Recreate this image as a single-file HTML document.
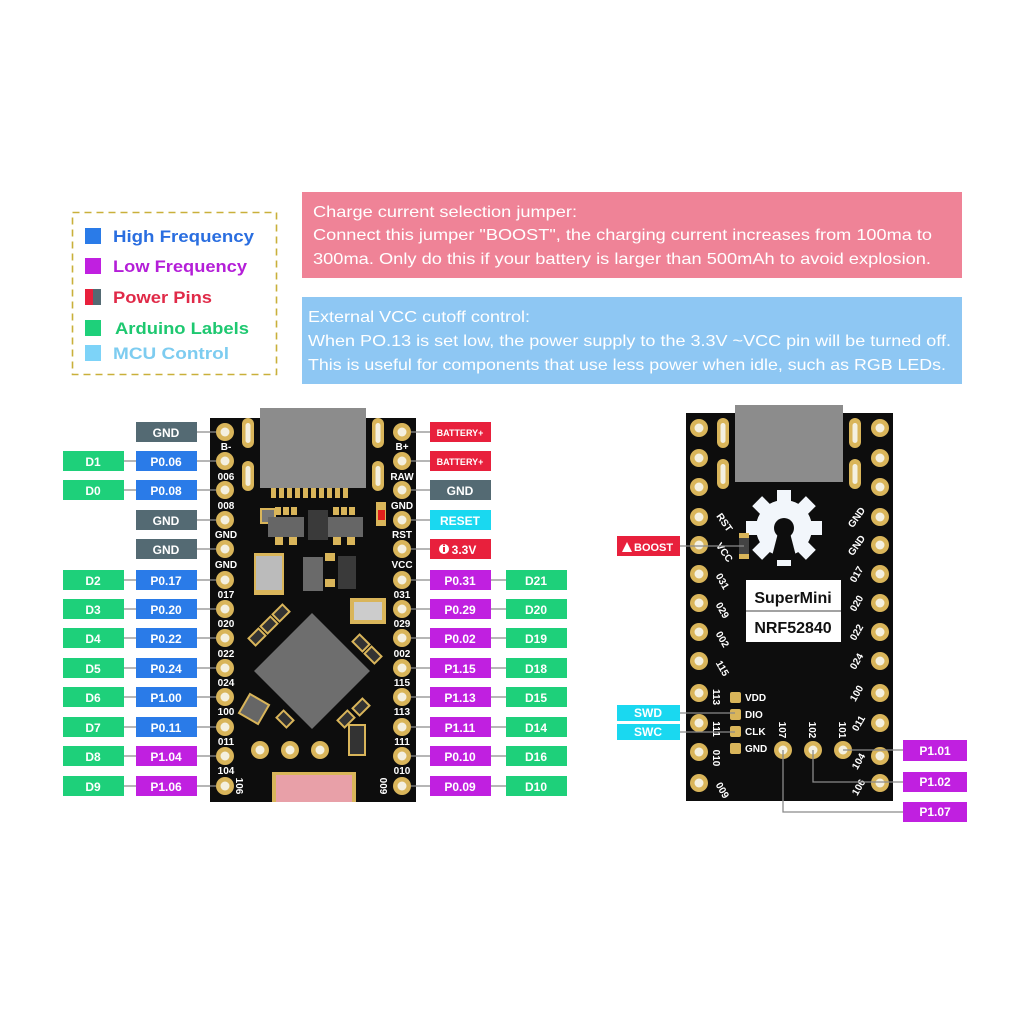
<!DOCTYPE html>
<html><head><meta charset="utf-8"><style>
html,body{margin:0;padding:0;background:#fff}
svg{display:block}
text{font-family:"Liberation Sans",sans-serif}
.lb{font-weight:bold;font-size:12px;fill:#fff;text-anchor:middle}
.sk{font-weight:bold;font-size:10px;fill:#fff;text-anchor:middle}
.rt{font-weight:bold;font-size:11px;fill:#fff}
.ln{stroke:#8a8a8a;stroke-width:1.3;fill:none}
.info{font-size:16px;fill:#fff}
</style></head><body>
<svg width="1024" height="1024" viewBox="0 0 1024 1024" xmlns="http://www.w3.org/2000/svg">
<defs>
<g id="pad"><circle r="9" fill="#d9b55a"/><circle r="4.5" fill="#f4f0e0"/></g>
<g id="slot"><rect x="-6" y="-15" width="12" height="30" rx="6" fill="#d9b55a"/><rect x="-2.5" y="-10" width="5" height="20" rx="2.5" fill="#f4f0e0"/></g>
</defs>

<!-- Legend -->
<rect x="72.5" y="212.5" width="204" height="162" fill="none" stroke="#c9b03a" stroke-width="1.6" stroke-dasharray="7,5"/>
<rect x="85" y="228" width="16" height="16" fill="#2a7be8"/>
<text x="113" y="242" font-size="17" font-weight="bold" fill="#2a6ee0" textLength="141" lengthAdjust="spacingAndGlyphs">High Frequency</text>
<rect x="85" y="258" width="16" height="16" fill="#c020e0"/>
<text x="113" y="272" font-size="17" font-weight="bold" fill="#b41ed8" textLength="134" lengthAdjust="spacingAndGlyphs">Low Frequency</text>
<rect x="85" y="289" width="8" height="16" fill="#e8203c"/><rect x="93" y="289" width="8" height="16" fill="#546a73"/>
<text x="113" y="303" font-size="17" font-weight="bold" fill="#e02a48" textLength="99" lengthAdjust="spacingAndGlyphs">Power Pins</text>
<rect x="85" y="320" width="16" height="16" fill="#1ed07a"/>
<text x="115" y="334" font-size="17" font-weight="bold" fill="#1ec870" textLength="134" lengthAdjust="spacingAndGlyphs">Arduino Labels</text>
<rect x="85" y="345" width="16" height="16" fill="#7dd3f8"/>
<text x="113" y="359" font-size="17" font-weight="bold" fill="#7dccf0" textLength="116" lengthAdjust="spacingAndGlyphs">MCU Control</text>

<!-- Info boxes -->
<rect x="302" y="192" width="660" height="86" fill="#ef8397"/>
<text class="info" x="313" y="217" textLength="264" lengthAdjust="spacingAndGlyphs">Charge current selection jumper:</text>
<text class="info" x="313" y="240" textLength="619" lengthAdjust="spacingAndGlyphs">Connect this jumper "BOOST", the charging current increases from 100ma to</text>
<text class="info" x="313" y="264" textLength="618" lengthAdjust="spacingAndGlyphs">300ma. Only do this if your battery is larger than 500mAh to avoid explosion.</text>
<rect x="302" y="297" width="660" height="87" fill="#8ec7f3"/>
<text class="info" x="308" y="322" textLength="222" lengthAdjust="spacingAndGlyphs">External VCC cutoff control:</text>
<text class="info" x="308" y="346" textLength="643" lengthAdjust="spacingAndGlyphs">When PO.13 is set low, the power supply to the 3.3V ~VCC pin will be turned off.</text>
<text class="info" x="308" y="370" textLength="638" lengthAdjust="spacingAndGlyphs">This is useful for components that use less power when idle, such as RGB LEDs.</text>

<!-- LEFT BOARD -->
<rect x="210" y="418" width="206" height="384" fill="#0d0d0d"/>
<rect x="260" y="408" width="106" height="80" fill="#8c8c8c"/>
<g fill="#d9b55a">
<rect x="271" y="488" width="5" height="10"/><rect x="279" y="488" width="5" height="10"/><rect x="287" y="488" width="5" height="10"/><rect x="295" y="488" width="5" height="10"/><rect x="303" y="488" width="5" height="10"/><rect x="311" y="488" width="5" height="10"/><rect x="319" y="488" width="5" height="10"/><rect x="327" y="488" width="5" height="10"/><rect x="335" y="488" width="5" height="10"/><rect x="343" y="488" width="5" height="10"/>
</g>
<use href="#slot" x="248" y="433"/><use href="#slot" x="248" y="476"/><use href="#slot" x="378" y="433"/><use href="#slot" x="378" y="476"/>
<rect x="260" y="508" width="16" height="16" fill="#d9b55a"/>
<rect x="262" y="510" width="12" height="12" fill="#777"/>
<rect x="268" y="517" width="36" height="20" fill="#666"/>
<rect x="275" y="507" width="6" height="8" fill="#d9b55a"/><rect x="283" y="507" width="6" height="8" fill="#d9b55a"/><rect x="291" y="507" width="6" height="8" fill="#d9b55a"/>
<rect x="275" y="537" width="8" height="8" fill="#d9b55a"/><rect x="289" y="537" width="8" height="8" fill="#d9b55a"/>
<rect x="327" y="517" width="36" height="20" fill="#666"/>
<rect x="333" y="507" width="6" height="8" fill="#d9b55a"/><rect x="341" y="507" width="6" height="8" fill="#d9b55a"/><rect x="349" y="507" width="6" height="8" fill="#d9b55a"/>
<rect x="333" y="537" width="8" height="8" fill="#d9b55a"/><rect x="347" y="537" width="8" height="8" fill="#d9b55a"/>
<rect x="308" y="510" width="20" height="30" fill="#3a3a3a"/>
<rect x="376" y="502" width="10" height="24" fill="#d9b55a"/><rect x="378" y="510" width="7" height="10" fill="#e0201c"/>
<rect x="254" y="553" width="30" height="42" fill="#d9b55a"/><rect x="256" y="556" width="26" height="34" fill="#bbb"/>
<rect x="303" y="557" width="20" height="34" fill="#6a6a6a"/>
<rect x="325" y="553" width="10" height="8" fill="#d9b55a"/><rect x="325" y="579" width="10" height="8" fill="#d9b55a"/>
<rect x="338" y="556" width="18" height="33" fill="#3a3a3a"/>
<rect x="350" y="598" width="36" height="26" fill="#d9b55a"/><rect x="354" y="602" width="28" height="18" fill="#ccc"/>
<g transform="rotate(45 312 671)"><rect x="271" y="630" width="82" height="82" fill="#6e6e6e"/></g>
<g fill="#333" stroke="#d9b55a" stroke-width="2">
<rect x="264" y="618" width="10" height="14" transform="rotate(45 269 625)"/><rect x="276" y="606" width="10" height="14" transform="rotate(45 281 613)"/>
<rect x="252" y="630" width="10" height="14" transform="rotate(45 257 637)"/><rect x="356" y="636" width="10" height="14" transform="rotate(-45 361 643)"/>
<rect x="368" y="648" width="10" height="14" transform="rotate(-45 373 655)"/><rect x="356" y="700" width="10" height="14" transform="rotate(45 361 707)"/>
<rect x="341" y="712" width="10" height="14" transform="rotate(45 346 719)"/><rect x="280" y="712" width="10" height="14" transform="rotate(-45 285 719)"/>
</g>
<rect x="243" y="698" width="22" height="22" fill="#666" stroke="#d9b55a" stroke-width="2" transform="rotate(30 254 709)"/>
<rect x="349" y="725" width="16" height="30" fill="#333" stroke="#d9b55a" stroke-width="2"/>
<use href="#pad" x="260" y="750"/><use href="#pad" x="290" y="750"/><use href="#pad" x="320" y="750"/>
<rect x="272" y="772" width="84" height="30" fill="#d9b55a"/><rect x="276" y="775" width="76" height="27" fill="#e8a0a8"/>

<g>
<use href="#pad" x="225" y="432"/><use href="#pad" x="225" y="461"/><use href="#pad" x="225" y="490"/><use href="#pad" x="225" y="520"/><use href="#pad" x="225" y="549"/><use href="#pad" x="225" y="580"/><use href="#pad" x="225" y="609"/><use href="#pad" x="225" y="638"/><use href="#pad" x="225" y="668"/><use href="#pad" x="225" y="697"/><use href="#pad" x="225" y="727"/><use href="#pad" x="225" y="756"/><use href="#pad" x="225" y="786"/>
<use href="#pad" x="402" y="432"/><use href="#pad" x="402" y="461"/><use href="#pad" x="402" y="490"/><use href="#pad" x="402" y="520"/><use href="#pad" x="402" y="549"/><use href="#pad" x="402" y="580"/><use href="#pad" x="402" y="609"/><use href="#pad" x="402" y="638"/><use href="#pad" x="402" y="668"/><use href="#pad" x="402" y="697"/><use href="#pad" x="402" y="727"/><use href="#pad" x="402" y="756"/><use href="#pad" x="402" y="786"/>
</g>
<g class="sk">
<text x="226" y="450">B-</text><text x="226" y="480">006</text><text x="226" y="509">008</text><text x="226" y="538">GND</text><text x="226" y="568">GND</text><text x="226" y="598">017</text><text x="226" y="627">020</text><text x="226" y="657">022</text><text x="226" y="686">024</text><text x="226" y="715">100</text><text x="226" y="745">011</text><text x="226" y="774">104</text>
<text x="402" y="450">B+</text><text x="402" y="480">RAW</text><text x="402" y="509">GND</text><text x="402" y="538">RST</text><text x="402" y="568">VCC</text><text x="402" y="598">031</text><text x="402" y="627">029</text><text x="402" y="657">002</text><text x="402" y="686">115</text><text x="402" y="715">113</text><text x="402" y="745">111</text><text x="402" y="774">010</text>
<text transform="translate(240 786) rotate(90)" text-anchor="middle" y="4">106</text>
<text transform="translate(384 786) rotate(90)" text-anchor="middle" y="4">009</text>
</g>

<g class="ln">
<path d="M197 432H216M197 461H216M197 490H216M197 520H216M197 549H216M197 580H216M197 609H216M197 638H216M197 668H216M197 697H216M197 727H216M197 756H216M197 786H216"/>
<path d="M124 461H136M124 490H136M124 580H136M124 609H136M124 638H136M124 668H136M124 697H136M124 727H136M124 756H136M124 786H136"/>
<path d="M411 432H430M411 461H430M411 490H430M411 520H430M411 549H430M411 580H430M411 609H430M411 638H430M411 668H430M411 697H430M411 727H430M411 756H430M411 786H430"/>
<path d="M491 580H506M491 609H506M491 638H506M491 668H506M491 697H506M491 727H506M491 756H506M491 786H506"/>
</g>

<g>
<rect x="136" y="422" width="61" height="20" fill="#546a73"/>
<rect x="136" y="451" width="61" height="20" fill="#2a7be8"/>
<rect x="136" y="480" width="61" height="20" fill="#2a7be8"/>
<rect x="136" y="510" width="61" height="20" fill="#546a73"/>
<rect x="136" y="539" width="61" height="20" fill="#546a73"/>
<rect x="136" y="570" width="61" height="20" fill="#2a7be8"/>
<rect x="136" y="599" width="61" height="20" fill="#2a7be8"/>
<rect x="136" y="628" width="61" height="20" fill="#2a7be8"/>
<rect x="136" y="658" width="61" height="20" fill="#2a7be8"/>
<rect x="136" y="687" width="61" height="20" fill="#2a7be8"/>
<rect x="136" y="717" width="61" height="20" fill="#2a7be8"/>
<rect x="136" y="746" width="61" height="20" fill="#c020e0"/>
<rect x="136" y="776" width="61" height="20" fill="#c020e0"/>
</g>
<g fill="#1ed07a">
<rect x="63" y="451" width="61" height="20"/><rect x="63" y="480" width="61" height="20"/><rect x="63" y="570" width="61" height="20"/><rect x="63" y="599" width="61" height="20"/><rect x="63" y="628" width="61" height="20"/><rect x="63" y="658" width="61" height="20"/><rect x="63" y="687" width="61" height="20"/><rect x="63" y="717" width="61" height="20"/><rect x="63" y="746" width="61" height="20"/><rect x="63" y="776" width="61" height="20"/>
<rect x="506" y="570" width="61" height="20"/><rect x="506" y="599" width="61" height="20"/><rect x="506" y="628" width="61" height="20"/><rect x="506" y="658" width="61" height="20"/><rect x="506" y="687" width="61" height="20"/><rect x="506" y="717" width="61" height="20"/><rect x="506" y="746" width="61" height="20"/><rect x="506" y="776" width="61" height="20"/>
</g>
<g>
<rect x="430" y="422" width="61" height="20" fill="#e8203c"/>
<rect x="430" y="451" width="61" height="20" fill="#e8203c"/>
<rect x="430" y="480" width="61" height="20" fill="#546a73"/>
<rect x="430" y="510" width="61" height="20" fill="#1ad8f0"/>
<rect x="430" y="539" width="61" height="20" fill="#e8203c"/>
<rect x="430" y="570" width="61" height="20" fill="#c020e0"/><rect x="430" y="599" width="61" height="20" fill="#c020e0"/><rect x="430" y="628" width="61" height="20" fill="#c020e0"/><rect x="430" y="658" width="61" height="20" fill="#c020e0"/><rect x="430" y="687" width="61" height="20" fill="#c020e0"/><rect x="430" y="717" width="61" height="20" fill="#c020e0"/><rect x="430" y="746" width="61" height="20" fill="#c020e0"/><rect x="430" y="776" width="61" height="20" fill="#c020e0"/>
</g>
<g class="lb">
<text x="166" y="437">GND</text><text x="166" y="466">P0.06</text><text x="166" y="495">P0.08</text><text x="166" y="525">GND</text><text x="166" y="554">GND</text><text x="166" y="585">P0.17</text><text x="166" y="614">P0.20</text><text x="166" y="643">P0.22</text><text x="166" y="673">P0.24</text><text x="166" y="702">P1.00</text><text x="166" y="732">P0.11</text><text x="166" y="761">P1.04</text><text x="166" y="791">P1.06</text>
<text x="93" y="466">D1</text><text x="93" y="495">D0</text><text x="93" y="585">D2</text><text x="93" y="614">D3</text><text x="93" y="643">D4</text><text x="93" y="673">D5</text><text x="93" y="702">D6</text><text x="93" y="732">D7</text><text x="93" y="761">D8</text><text x="93" y="791">D9</text>
<text x="460" y="436" font-size="9">BATTERY+</text><text x="460" y="465" font-size="9">BATTERY+</text><text x="460" y="495">GND</text><text x="460" y="525">RESET</text>
<text x="464" y="554">3.3V</text>
<text x="460" y="585">P0.31</text><text x="460" y="614">P0.29</text><text x="460" y="643">P0.02</text><text x="460" y="673">P1.15</text><text x="460" y="702">P1.13</text><text x="460" y="732">P1.11</text><text x="460" y="761">P0.10</text><text x="460" y="791">P0.09</text>
<text x="536" y="585">D21</text><text x="536" y="614">D20</text><text x="536" y="643">D19</text><text x="536" y="673">D18</text><text x="536" y="702">D15</text><text x="536" y="732">D14</text><text x="536" y="761">D16</text><text x="536" y="791">D10</text>
</g>
<circle cx="444" cy="549" r="5" fill="#fff"/><rect x="443" y="547" width="2" height="5" fill="#e8203c"/><rect x="443" y="544.5" width="2" height="1.5" fill="#e8203c"/>

<!-- RIGHT BOARD -->
<rect x="686" y="413" width="207" height="388" fill="#0d0d0d"/>
<rect x="735" y="405" width="108" height="77" fill="#8c8c8c"/>
<use href="#slot" x="723" y="433"/><use href="#slot" x="723" y="474"/><use href="#slot" x="855" y="433"/><use href="#slot" x="855" y="474"/>
<g>
<use href="#pad" x="699" y="428"/><use href="#pad" x="699" y="458"/><use href="#pad" x="699" y="487"/><use href="#pad" x="699" y="517"/><use href="#pad" x="699" y="545"/><use href="#pad" x="699" y="574"/><use href="#pad" x="699" y="603"/><use href="#pad" x="699" y="632"/><use href="#pad" x="699" y="661"/><use href="#pad" x="699" y="693"/><use href="#pad" x="699" y="723"/><use href="#pad" x="699" y="752"/><use href="#pad" x="699" y="783"/>
<use href="#pad" x="880" y="428"/><use href="#pad" x="880" y="458"/><use href="#pad" x="880" y="487"/><use href="#pad" x="880" y="517"/><use href="#pad" x="880" y="545"/><use href="#pad" x="880" y="574"/><use href="#pad" x="880" y="603"/><use href="#pad" x="880" y="632"/><use href="#pad" x="880" y="661"/><use href="#pad" x="880" y="693"/><use href="#pad" x="880" y="723"/><use href="#pad" x="880" y="756"/><use href="#pad" x="880" y="783"/>
<use href="#pad" x="783" y="750"/><use href="#pad" x="813" y="750"/><use href="#pad" x="843" y="750"/>
</g>
<g fill="#f2f6fb" transform="translate(784 528)">
<circle r="28"/>
<g><rect x="-7" y="-38" width="14" height="14"/><rect x="-7" y="-38" width="14" height="14" transform="rotate(45)"/><rect x="-7" y="-38" width="14" height="14" transform="rotate(90)"/><rect x="-7" y="-38" width="14" height="14" transform="rotate(135)"/><rect x="-7" y="-38" width="14" height="14" transform="rotate(180)"/><rect x="-7" y="-38" width="14" height="14" transform="rotate(225)"/><rect x="-7" y="-38" width="14" height="14" transform="rotate(270)"/><rect x="-7" y="-38" width="14" height="14" transform="rotate(315)"/></g>
<circle r="10" fill="#0d0d0d"/>
<path d="M-6 5 L-13 32 L13 32 L6 5Z" fill="#0d0d0d"/>
</g>
<rect x="739" y="533" width="10" height="26" fill="#d9b55a"/><rect x="739" y="538" width="10" height="16" fill="#444"/>
<rect x="746" y="580" width="95" height="62" fill="#fff"/>
<line x1="746" y1="611" x2="841" y2="611" stroke="#444" stroke-width="1"/>
<text x="793" y="603" font-size="16" font-weight="bold" fill="#111" text-anchor="middle">SuperMini</text>
<text x="793" y="633" font-size="16" font-weight="bold" fill="#111" text-anchor="middle">NRF52840</text>
<g fill="#d9b55a"><rect x="730" y="692" width="11" height="11" rx="2"/><rect x="730" y="709" width="11" height="11" rx="2"/><rect x="730" y="726" width="11" height="11" rx="2"/><rect x="730" y="743" width="11" height="11" rx="2"/></g>
<g class="sk" style="text-anchor:start"><text x="745" y="701">VDD</text><text x="745" y="718">DIO</text><text x="745" y="735">CLK</text><text x="745" y="752">GND</text></g>
<g class="sk">
<text transform="translate(725 522) rotate(55)" y="4">RST</text>
<text transform="translate(725 552) rotate(55)" y="4">VCC</text>
<text transform="translate(723 581) rotate(60)" y="4">031</text>
<text transform="translate(723 610) rotate(60)" y="4">029</text>
<text transform="translate(723 639) rotate(60)" y="4">002</text>
<text transform="translate(723 668) rotate(60)" y="4">115</text>
<text transform="translate(717 697) rotate(90)" y="4">113</text>
<text transform="translate(717 729) rotate(90)" y="4">111</text>
<text transform="translate(717 758) rotate(90)" y="4">010</text>
<text transform="translate(723 790) rotate(60)" y="4">009</text>
<text transform="translate(856 517) rotate(-55)" y="4">GND</text>
<text transform="translate(856 545) rotate(-55)" y="4">GND</text>
<text transform="translate(856 574) rotate(-60)" y="4">017</text>
<text transform="translate(856 603) rotate(-60)" y="4">020</text>
<text transform="translate(856 632) rotate(-60)" y="4">022</text>
<text transform="translate(856 661) rotate(-60)" y="4">024</text>
<text transform="translate(856 693) rotate(-60)" y="4">100</text>
<text transform="translate(858 723) rotate(-60)" y="4">011</text>
<text transform="translate(858 761) rotate(-60)" y="4">104</text>
<text transform="translate(858 787) rotate(-60)" y="4">106</text>
<text transform="translate(783 730) rotate(90)" y="4">107</text>
<text transform="translate(813 730) rotate(90)" y="4">102</text>
<text transform="translate(843 730) rotate(90)" y="4">101</text>
</g>
<g class="ln">
<path d="M680 546H744"/>
<path d="M680 713H735"/>
<path d="M680 732H735"/>
<path d="M843 750H903"/>
<path d="M813 750V782H903"/>
<path d="M783 750V812H903"/>
</g>
<rect x="617" y="536" width="63" height="20" fill="#e8203c"/>
<path d="M622 552 L627 542 L632 552Z" fill="#fff"/>
<text x="634" y="551" class="rt">BOOST</text>
<rect x="617" y="705" width="63" height="16" fill="#1ad8f0"/>
<text x="648" y="717" class="lb">SWD</text>
<rect x="617" y="724" width="63" height="16" fill="#1ad8f0"/>
<text x="648" y="736" class="lb">SWC</text>
<rect x="903" y="740" width="64" height="21" fill="#c020e0"/><text x="935" y="755" class="lb">P1.01</text>
<rect x="903" y="772" width="64" height="20" fill="#c020e0"/><text x="935" y="786" class="lb">P1.02</text>
<rect x="903" y="802" width="64" height="20" fill="#c020e0"/><text x="935" y="816" class="lb">P1.07</text>
</svg>
</body></html>
